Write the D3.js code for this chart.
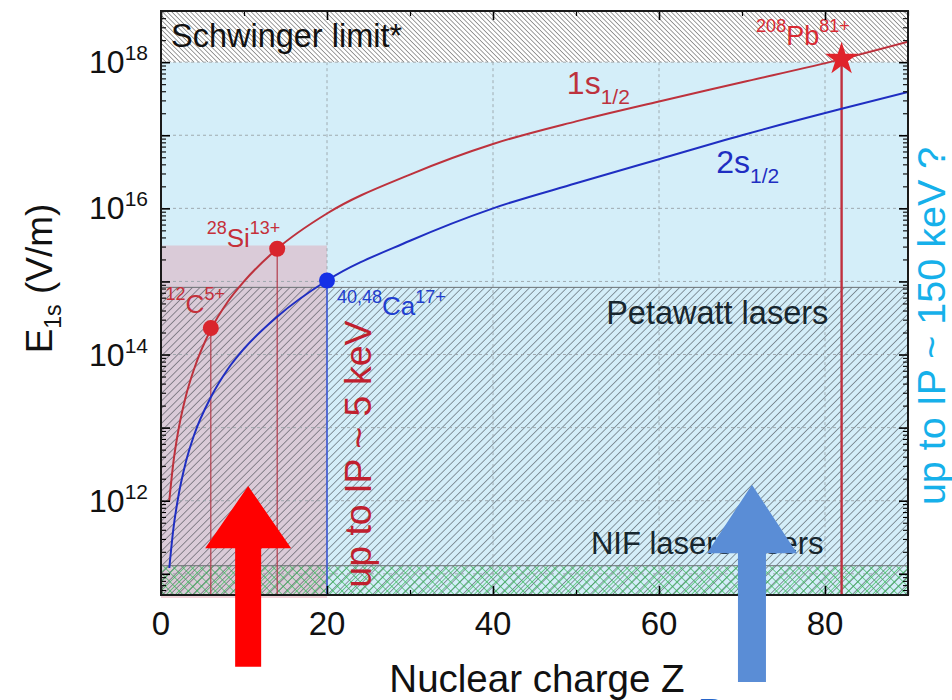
<!DOCTYPE html>
<html>
<head>
<meta charset="utf-8">
<script src="https://cdn.jsdelivr.net/npm/d3@7"></script>
<style>
  html, body { margin: 0; padding: 0; background: #fff; }
  svg { display: block; font-family: "Liberation Sans", Arial, sans-serif; }
</style>
</head>
<body>
<svg id="chart" width="952" height="700"></svg>
<script>
// ---------------------------------------------------------------------------
// Data
// ---------------------------------------------------------------------------

// nuclear charge Z sampled along the two curves
const zValues   = [1, 1.5, 2, 3, 4, 6, 8, 10, 14, 20, 30, 40, 50, 60, 70, 82, 90];
// field strength of the 1s1/2 state (V/m)
const e1sValues = [1.0e12, 3.4e12, 8.0e12, 2.7e13, 6.4e13, 2.2e14, 5.2e14, 1.0e15, 2.8e15,
                   8.5e15, 2.9e16, 7.6e16, 1.55e17, 2.9e17, 5.3e17, 1.1e18, 1.9e18];
// field strength of the 2s1/2 state (V/m)
const e2sValues = [1.2e11, 4.2e11, 1.0e12, 3.4e12, 8.0e12, 2.6e13, 6.2e13, 1.2e14, 3.3e14,
                   1.03e15, 3.6e15, 1.0e16, 2.2e16, 4.7e16, 1.0e17, 2.3e17, 3.9e17];

// highlighted ions
const ionZ     = [6, 14, 20, 82];
const ionE     = [2.3e14, 2.8e15, 1.03e15, 1.1e18];
const ionShell = ["1s", "1s", "2s", "1s"];

// shaded regions
const schwingerE = 1e18;     // Schwinger limit
const petawattE  = 8.3e14;   // top of petawatt band
const nifE       = 1.29e11;  // top of NIF band
const lowZmax    = 20;       // low-Z box (IP ~ 5 keV)
const lowZtopE   = 3.1e15;

// axis ticks
const xTicks      = [0, 20, 40, 60, 80];
const xMinorTicks = [10, 30, 50, 70, 90];
const yLabelExp   = [12, 14, 16, 18];
const yDecades    = d3.range(11, 19);

// arrows (Z position, tip, head base, tail)
const arrowZ     = [10.5, 71.2];
const arrowTipE  = [10 ** 12.2, 10 ** 12.22];
const arrowBaseE = [10 ** 11.35, 10 ** 11.28];
const arrowTailE = [10 ** 9.73, 10 ** 9.52];
const arrowColor = ["#ff0000", "#5a8dd6"];

// ---------------------------------------------------------------------------
// Setup
// ---------------------------------------------------------------------------

const RED = "#bd323d";
const BLUE = "#1f2ec2";
const margin = { top: 11, right: 44, bottom: 105, left: 161 };
const svgEl = d3.select("#chart");
const width = 952 - margin.left - margin.right;
const height = 700 - margin.top - margin.bottom;

const x = d3.scaleLinear().domain([0, 90]).range([0, width]);
const y = d3.scaleLog().domain([10 ** 10.71, 10 ** 18.70]).range([height, 0]);

const defs = svgEl.append("defs");

function hatch(id, size, angle, color, sw, cross) {
  const p = defs.append("pattern")
    .attr("id", id)
    .attr("patternUnits", "userSpaceOnUse")
    .attr("width", size).attr("height", size)
    .attr("patternTransform", `rotate(${angle})`);
  p.append("line")
    .attr("x1", 0).attr("y1", 0).attr("x2", 0).attr("y2", size)
    .attr("stroke", color).attr("stroke-width", sw);
  if (cross) {
    p.append("line")
      .attr("x1", 0).attr("y1", 0).attr("x2", size).attr("y2", 0)
      .attr("stroke", color).attr("stroke-width", sw);
  }
}
hatch("hatchSchwinger", 3.3, -45, "#3c3c3c", 1.0, false);
hatch("hatchPetawatt", 5.3, 45, "#353b41", 1.0, false);
hatch("hatchNif", 6.4, 45, "#35b455", 1.3, true);

defs.append("clipPath").attr("id", "plotClip")
  .append("rect").attr("width", width).attr("height", height);

const svg = svgEl.append("g")
  .attr("transform", `translate(${margin.left},${margin.top})`);

// ---------------------------------------------------------------------------
// Background regions
// ---------------------------------------------------------------------------

svg.append("rect")
  .attr("x", 0).attr("y", y(schwingerE))
  .attr("width", width).attr("height", height - y(schwingerE))
  .attr("fill", "#d4eef9");

svg.append("rect")
  .attr("x", 0).attr("y", 0)
  .attr("width", width).attr("height", y(schwingerE))
  .attr("fill", "#fff");
svg.append("rect")
  .attr("x", 0).attr("y", 0)
  .attr("width", width).attr("height", y(schwingerE))
  .attr("fill", "url(#hatchSchwinger)");

svg.append("rect")
  .attr("x", x(0)).attr("y", y(lowZtopE))
  .attr("width", x(lowZmax) - x(0)).attr("height", height - y(lowZtopE) + 3)
  .attr("fill", "rgba(226,160,176,0.45)");

svg.append("rect")
  .attr("x", 0).attr("y", y(petawattE))
  .attr("width", width).attr("height", height - y(petawattE))
  .attr("fill", "url(#hatchPetawatt)");

svg.append("rect")
  .attr("x", 0).attr("y", y(nifE))
  .attr("width", width).attr("height", height - y(nifE))
  .attr("fill", "url(#hatchNif)");

[petawattE, nifE].forEach(e => {
  svg.append("line")
    .attr("x1", 0).attr("x2", width)
    .attr("y1", y(e)).attr("y2", y(e))
    .attr("stroke", "#6b6f73").attr("stroke-width", 1);
});

// grid
const grid = svg.append("g")
  .attr("stroke", "#9aa3a8").attr("stroke-width", 0.9)
  .attr("stroke-dasharray", "3,3");
xTicks.filter(d => d > 0).forEach(d => {
  grid.append("line")
    .attr("x1", x(d)).attr("x2", x(d))
    .attr("y1", y(schwingerE)).attr("y2", height);
});
yDecades.forEach(k => {
  grid.append("line")
    .attr("x1", 0).attr("x2", width)
    .attr("y1", y(10 ** k)).attr("y2", y(10 ** k));
});

// ---------------------------------------------------------------------------
// Curves, drop lines, markers
// ---------------------------------------------------------------------------

const plot = svg.append("g").attr("clip-path", "url(#plotClip)");

ionZ.forEach((z, i) => {
  const isPb = z === 82;
  plot.append("line")
    .attr("x1", x(z)).attr("x2", x(z))
    .attr("y1", y(ionE[i])).attr("y2", height)
    .attr("stroke", ionShell[i] === "2s" ? "#3a56d4" : (isPb ? "#c0303e" : "#b23c4c"))
    .attr("stroke-width", isPb ? 2.4 : (ionShell[i] === "2s" ? 1.6 : 1.2));
});

const line = d3.line()
  .x(d => x(d[0]))
  .y(d => y(d[1]))
  .curve(d3.curveMonotoneX);

plot.append("path")
  .datum(d3.zip(zValues, e2sValues))
  .attr("d", line)
  .attr("fill", "none").attr("stroke", BLUE).attr("stroke-width", 2);

plot.append("path")
  .datum(d3.zip(zValues, e1sValues))
  .attr("d", line)
  .attr("fill", "none").attr("stroke", RED).attr("stroke-width", 2);

ionZ.forEach((z, i) => {
  if (z === 82) {
    svg.append("path")
      .attr("d", d3.symbol(d3.symbolStar, 340)())
      .attr("transform", `translate(${x(z)},${y(ionE[i])})`)
      .attr("fill", "#e0232b");
  } else {
    svg.append("circle")
      .attr("cx", x(z)).attr("cy", y(ionE[i])).attr("r", 8)
      .attr("fill", ionShell[i] === "2s" ? "#1530e6" : "#d9252d");
  }
});

// ---------------------------------------------------------------------------
// Text annotations (placed in data space)
// ---------------------------------------------------------------------------

function label(z, logE, color, parts, anchor = "start") {
  const t = svg.append("text")
    .attr("x", x(z)).attr("y", y(10 ** logE))
    .attr("fill", color).attr("text-anchor", anchor);
  let shift = 0;
  parts.forEach(([txt, size, dy]) => {
    t.append("tspan")
      .attr("font-size", size)
      .attr("dy", dy - shift)
      .text(txt);
    shift = dy;
  });
  return t;
}

label(1.2, 18.21, "#111", [["Schwinger limit*", 32.5, 0]]);
label(48.9, 17.57, RED, [["1s", 32, 0], ["1/2", 21, 10]]);
label(66.9, 16.49, BLUE, [["2s", 32, 0], ["1/2", 21, 10]]);
label(71.7, 18.24, "#d92a32", [["208", 18, -13], ["Pb", 27, 0], ["81+", 18, -13]]);
label(5.5, 15.47, "#c5303a", [["28", 18, -13], ["Si", 26, 0], ["13+", 18, -13]]);
label(0.55, 14.57, "#c5303a", [["12", 18, -13], ["C", 26, 0], ["5+", 18, -13]]);
label(21.2, 14.54, "#1f3fcf", [["40,48", 18, -12], ["Ca", 26, 0], ["17+", 18, -12]]);
label(80.4, 14.42, "#17262e", [["Petawatt lasers", 32.5, 0]], "end");
label(51.8, 11.27, "#17262e", [["NIF lasers lasers", 31, 0]]);

// vertical annotations
svg.append("text")
  .attr("transform", `translate(${x(25.3)},${y(10 ** 10.81)}) rotate(-90)`)
  .attr("font-size", 37.5).attr("fill", "#c0202e")
  .text("up to IP ~ 5 keV");

svg.append("text")
  .attr("transform", `translate(${x(94.5)},${y(10 ** 11.94)}) rotate(-90)`)
  .attr("font-size", 39.5).attr("fill", "#16b0ea")
  .text("up to IP ~ 150 keV ?");

// ---------------------------------------------------------------------------
// Axes
// ---------------------------------------------------------------------------

function tickAxis(axis, transform, size, sw) {
  const g = svg.append("g")
    .attr("transform", transform)
    .call(axis.tickSizeInner(-size).tickSizeOuter(0).tickFormat(""));
  g.select(".domain").remove();
  g.selectAll("line").attr("stroke", "#000").attr("stroke-width", sw);
}

const yMinor = [];
yDecades.concat([10]).forEach(k => {
  for (let m = 2; m <= 9; m++) {
    const v = m * 10 ** k;
    if (v > y.domain()[0] && v < y.domain()[1]) yMinor.push(v);
  }
});
const yMajor = yDecades.map(k => 10 ** k);

tickAxis(d3.axisBottom(x).tickValues(xTicks), `translate(0,${height})`, 9, 1.6);
tickAxis(d3.axisBottom(x).tickValues(xMinorTicks), `translate(0,${height})`, 5, 1.2);
tickAxis(d3.axisTop(x).tickValues(xTicks), "translate(0,0)", 9, 1.6);
tickAxis(d3.axisTop(x).tickValues(xMinorTicks), "translate(0,0)", 5, 1.2);
tickAxis(d3.axisLeft(y).tickValues(yMajor), "translate(0,0)", 9, 1.6);
tickAxis(d3.axisLeft(y).tickValues(yMinor), "translate(0,0)", 5, 1.1);
tickAxis(d3.axisRight(y).tickValues(yMajor), `translate(${width},0)`, 9, 1.6);
tickAxis(d3.axisRight(y).tickValues(yMinor), `translate(${width},0)`, 5, 1.1);

svg.append("rect")
  .attr("width", width).attr("height", height)
  .attr("fill", "none").attr("stroke", "#1a1a1a").attr("stroke-width", 2);

// tick labels
xTicks.forEach(d => {
  svg.append("text")
    .attr("x", x(d)).attr("y", height + 40)
    .attr("text-anchor", "middle")
    .attr("font-size", 33).attr("fill", "#111")
    .text(d);
});

yLabelExp.forEach(k => {
  const t = svg.append("text")
    .attr("x", -13).attr("y", y(10 ** k) + 11)
    .attr("text-anchor", "end").attr("fill", "#111");
  t.append("tspan").attr("font-size", 32).text("10");
  t.append("tspan").attr("font-size", 21).attr("dy", -13).text(k);
});

// axis titles
svg.append("text")
  .attr("x", x(45.3)).attr("y", height + 97)
  .attr("text-anchor", "middle")
  .attr("font-size", 38.5).attr("fill", "#111")
  .text("Nuclear charge Z");

const yTitle = svg.append("text")
  .attr("transform", `translate(${-109},${y(10 ** 15.04)}) rotate(-90)`)
  .attr("text-anchor", "middle").attr("fill", "#111");
yTitle.append("tspan").attr("font-size", 37).text("E");
yTitle.append("tspan").attr("font-size", 23).attr("dy", 9).text("1s");
yTitle.append("tspan").attr("font-size", 37).attr("dy", -9).text(" (V/m)");

// ---------------------------------------------------------------------------
// Arrows (drawn on top)
// ---------------------------------------------------------------------------

const headHalf = [43, 45];
const shaftHalf = [13, 14];
arrowZ.forEach((z, i) => {
  const cx = x(z);
  const tip = y(arrowTipE[i]);
  const base = y(arrowBaseE[i]);
  const tail = y(arrowTailE[i]);
  const h = headHalf[i], s = shaftHalf[i];
  const pts = [
    [cx, tip], [cx + h, base], [cx + s, base], [cx + s, tail],
    [cx - s, tail], [cx - s, base], [cx - h, base]
  ];
  svg.append("path")
    .attr("d", d3.line()(pts) + "Z")
    .attr("fill", arrowColor[i]);
});

// cut-off letter at the lower edge
svg.append("text")
  .attr("x", x(64.6)).attr("y", height + 135)
  .attr("font-size", 44).attr("fill", "#2564c8")
  .text("D");
</script>
</body>
</html>
